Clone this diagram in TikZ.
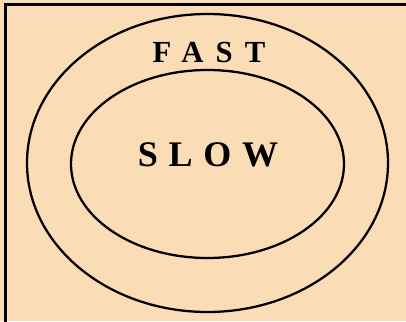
\documentclass[tikz,border=0pt]{standalone}
\usepackage{fontspec}
\usepackage{xcolor}
\newfontfamily\zonefont[LetterSpace=40]{Liberation Serif}
\newfontfamily\corefont[LetterSpace=30]{Liberation Serif}
\definecolor{peach}{RGB}{250,220,182}
\tikzset{zone/.style={line width=1.7pt}}

\begin{document}
\begin{tikzpicture}[x=0.75pt,y=0.75pt]
\clip (0,0) rectangle (406,321);
\fill[peach] (0,0) rectangle (406,321);
\draw[line width=2.2pt] (5.5,-20) -- (5.5,316.5) -- (430,316.5);
\draw[zone] (207.5,158) ellipse [x radius=180.5, y radius=149];
\draw[zone] (207.5,157) ellipse [x radius=136.5, y radius=94];
\node[font=\zonefont\bfseries\fontsize{23}{24}\selectfont] (fast) at (209,268.5) {FAST};
\node[font=\corefont\bfseries\fontsize{27}{28}\selectfont] (slow) at (208,166) {SLOW};
\end{tikzpicture}
\end{document}
